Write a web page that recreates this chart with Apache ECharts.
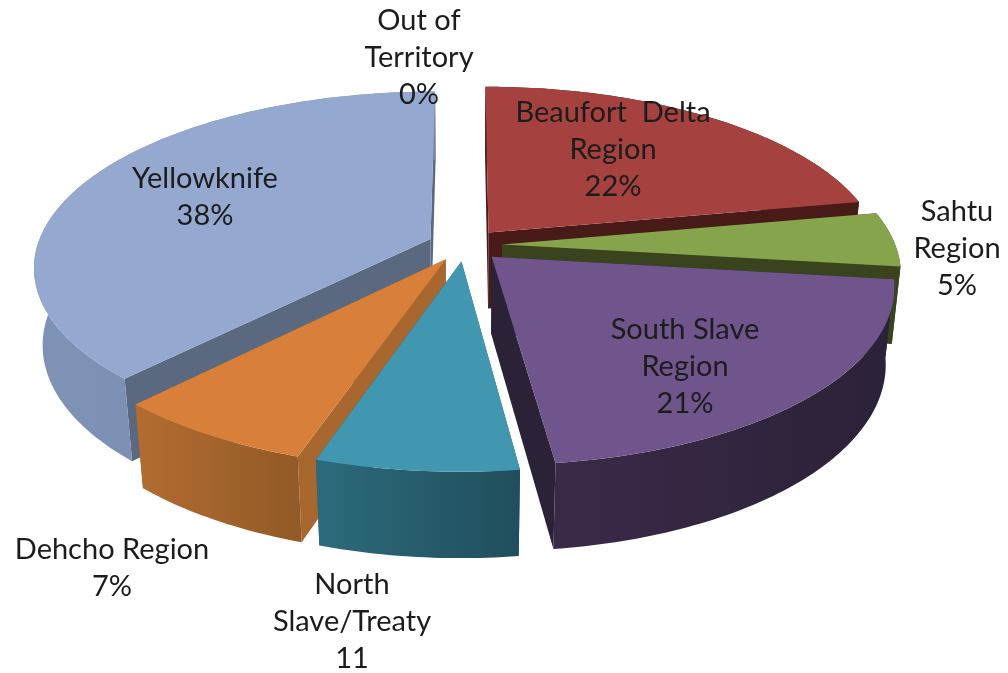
<!DOCTYPE html>
<html>
<head>
<meta charset="utf-8">
<title>Regional share pie</title>
<script src="https://cdn.jsdelivr.net/npm/echarts@6/dist/echarts.min.js"></script>
<style>
    html, body { margin: 0; padding: 0; background: #fff; }
    #chart { width: 1008px; height: 673px; }
</style>
</head>
<body>
<div id="chart"></div>
<script>
// Slices run clockwise from 12 o'clock. Wedge sizes are read off the picture,
// which is why North Slave is drawn at 7 although its label says 11.
const regionNames = ['Beaufort  Delta\nRegion', 'Sahtu\nRegion', 'South Slave\nRegion', 'North\nSlave/Treaty', 'Dehcho Region', 'Yellowknife', 'Out of\nTerritory'];
const regionLabels = ['22%', '5%', '21%', '11', '7%', '38%', '0%'];
const wedgeShares = [22, 5, 21, 7, 7, 38, 0];

// back to front, so nearer slices cover the walls of the ones behind
const paintOrder = [5, 6, 0, 1, 4, 3, 2];

const topColors = ['#A5423F', '#86A44B', '#70558C', '#4097AF', '#D8803A', '#94A8D0', '#94A8D0'];
const sideColors = ['#481A18', '#39431D', '#2B2238', '#235a6a', '#A8672E', '#5A6880', '#5A6880'];
const wallColors = [
    ['#4f1e1c', '#481a18'],
    ['#39431d', '#39431d'],
    ['#3a2a48', '#2b2138'],
    ['#2d6b7c', '#204e5c'],
    ['#b26c30', '#925a27'],
    ['#7f93b6', '#7088ab'],
    ['#7f93b6', '#7088ab']
];
const labelSpots = [[613, 150], [957, 249], [685, 367], [352, 622], [112, 568], [205, 197], [419, 58]];

// projection of the cake onto the page
const centerX = 465, centerY = 245;
const radiusX = 393, radiusY = 172, cakeDepth = 78;
const tiltK = 0.155, depthK = 0.02;
const explode = 0.095;

const totalShare = wedgeShares.reduce((a, b) => a + b, 0);
let running = 0;
const wedgeAngles = wedgeShares.map(share => {
    const start = running / totalShare * Math.PI * 2;
    running += share;
    return [start, running / totalShare * Math.PI * 2];
});

function project(u, v, t) {
    const w = 1 - tiltK * v + depthK * t;
    return [centerX + radiusX * u / w, centerY + (radiusY * v + cakeDepth * t) / w];
}

function renderSlice(params, api) {
    const idx = api.value(0);
    const [start, end] = wedgeAngles[idx];
    const children = [];

    if (api.value(1) > 0) {
        const mid = (start + end) / 2;
        const ox = explode * Math.sin(mid);
        const oy = -explode * Math.cos(mid);
        const rim = [];
        const steps = Math.max(2, Math.ceil((end - start) / (Math.PI / 180)));
        for (let s = 0; s <= steps; s++) {
            const a = start + (end - start) * s / steps;
            rim.push([ox + Math.sin(a), oy - Math.cos(a)]);
        }
        const first = rim[0];
        const last = rim[rim.length - 1];
        const side = p => ({
            type: 'polygon',
            shape: { points: [project(ox, oy, 0), project(p[0], p[1], 0), project(p[0], p[1], 1), project(ox, oy, 1)] },
            style: { fill: sideColors[idx] }
        });
        children.push(side(first), side(last));

        const wall = rim.map(p => project(p[0], p[1], 0))
            .concat(rim.slice().reverse().map(p => project(p[0], p[1], 1)));
        children.push({
            type: 'polygon',
            shape: { points: wall },
            style: {
                fill: {
                    type: 'linear', x: 0, y: 0, x2: 1, y2: 0,
                    colorStops: [
                        { offset: 0, color: wallColors[idx][0] },
                        { offset: 1, color: wallColors[idx][1] }
                    ]
                }
            }
        });

        children.push({
            type: 'polygon',
            shape: { points: [project(ox, oy, 0)].concat(rim.map(p => project(p[0], p[1], 0))) },
            style: { fill: topColors[idx] }
        });
    }

    children.push({
        type: 'text',
        z2: 10,
        x: labelSpots[idx][0],
        y: labelSpots[idx][1],
        style: {
            text: regionNames[idx] + '\n' + regionLabels[idx],
            fill: '#1c1c1c',
            font: '29px Lato',
            lineHeight: 37,
            align: 'center',
            verticalAlign: 'middle'
        }
    });

    return { type: 'group', children: children };
}

const chart = echarts.init(document.getElementById('chart'));
chart.setOption({
    backgroundColor: '#fff',
    animation: false,
    series: [{
        type: 'custom',
        coordinateSystem: 'none',
        renderItem: renderSlice,
        data: paintOrder.map(i => [i, wedgeShares[i]])
    }]
});
</script>
</body>
</html>
